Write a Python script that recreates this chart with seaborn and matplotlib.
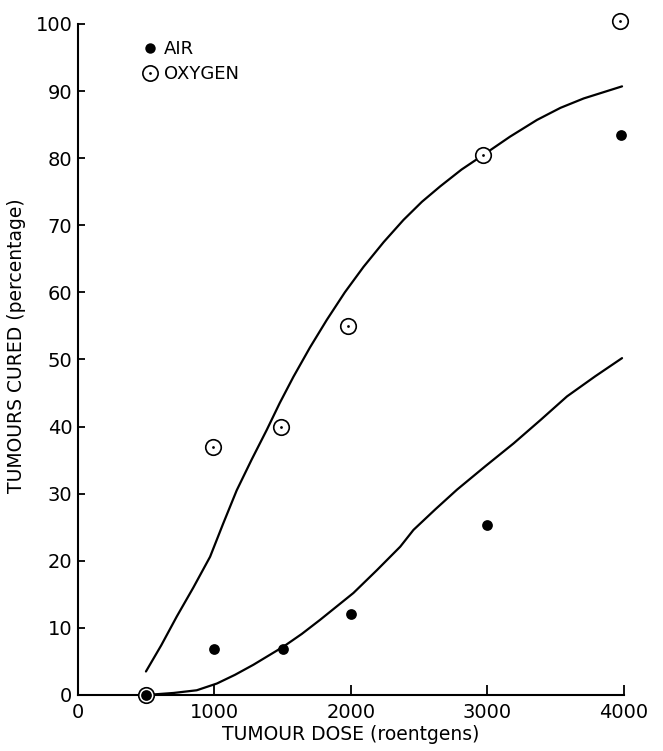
import numpy as np
import pandas as pd
import matplotlib
matplotlib.use('Agg')
import matplotlib.pyplot as plt
import seaborn as sns
from matplotlib.lines import Line2D
from matplotlib.legend_handler import HandlerTuple

air_dose = [500, 1000, 1500, 2000, 3000, 3975]
air_cured = [0, 6.9, 6.8, 12.1, 25.3, 83.5]
oxy_dose = [500, 990, 1490, 1980, 2970, 3970]
oxy_cured = [0, 36.9, 40.0, 55.0, 80.5, 100.5]

# 손으로 그린 곡선
oxy_curve_dose = [498, 610, 724, 845, 968, 1063, 1163, 1273, 1383, 1478, 1578, 1700, 1823,
                  1955, 2092, 2240, 2385, 2520, 2654, 2810, 2971, 3165, 3363, 3535, 3705, 3986]
oxy_curve_cured = [3.5, 7.4, 11.7, 16.0, 20.6, 25.5, 30.5, 35.1, 39.5, 43.5, 47.4, 51.8, 55.9,
                   60.0, 63.8, 67.5, 70.8, 73.5, 75.8, 78.3, 80.5, 83.2, 85.7, 87.5, 88.9, 90.7]
air_curve_dose = [500, 700, 870, 1017, 1150, 1285, 1505, 1640, 1774, 2018, 2190, 2361, 2458,
                  2620, 2777, 2985, 3192, 3390, 3583, 3790, 3986]
air_curve_cured = [0, 0.3, 0.7, 1.7, 3.0, 4.5, 7.2, 9.1, 11.2, 15.2, 18.6, 22.1, 24.6,
                   27.7, 30.6, 34.1, 37.5, 41.0, 44.5, 47.5, 50.2]

x_ticks = [0, 1000, 2000, 3000, 4000]
y_ticks = list(range(0, 101, 10))

sns.set_style('ticks', {'axes.edgecolor': 'black', 'xtick.color': 'black',
                        'ytick.color': 'black', 'text.color': 'black',
                        'axes.labelcolor': 'black'})
plt.rcParams['font.family'] = ['DejaVu Sans']

fig = plt.figure(figsize=(6.63, 7.51), dpi=100)
ax = fig.add_axes([0.1176, 0.0746, 0.8235, 0.8935])

sns.lineplot(x=oxy_curve_dose, y=oxy_curve_cured, ax=ax, color='black', lw=1.6, sort=False)
sns.lineplot(x=air_curve_dose, y=air_curve_cured, ax=ax, color='black', lw=1.6, sort=False)

# 산소 : 속이 빈 원 + 가운데 점
sns.scatterplot(x=oxy_dose, y=oxy_cured, ax=ax, s=125, marker='o', facecolor='white',
                edgecolor='black', linewidth=1.2, clip_on=False, zorder=3)
sns.scatterplot(x=oxy_dose, y=oxy_cured, ax=ax, s=4, marker='o', color='black',
                linewidth=0, clip_on=False, zorder=4)
# 공기 : 검은 점
sns.scatterplot(x=air_dose, y=air_cured, ax=ax, s=60, marker='o', color='black',
                linewidth=0, clip_on=False, zorder=5)

ax.set_xlim(0, 4000)
ax.set_ylim(0, 100)
ax.set_xticks(x_ticks)
ax.set_xticklabels([str(t) for t in x_ticks])
ax.set_yticks(y_ticks)
ax.set_yticklabels([str(t) for t in y_ticks])
sns.despine(ax=ax)
for s in ['left', 'bottom']:
    ax.spines[s].set_linewidth(1.5)
ax.tick_params(axis='x', direction='in', length=7, width=1.3, pad=6, labelsize=14)
ax.tick_params(axis='y', direction='in', length=5, width=1.3, pad=4, labelsize=14)

ax.set_xlabel('TUMOUR DOSE (roentgens)', fontsize=13.5, labelpad=2)
ax.set_ylabel('TUMOURS CURED (percentage)', fontsize=13.5)
ax.yaxis.set_label_coords(-0.095, 0.52)

air_h = Line2D([], [], marker='o', ls='', color='black', markersize=7.5, markeredgewidth=0)
oxy_ring = Line2D([], [], marker='o', ls='', markerfacecolor='white', markeredgecolor='black',
                  markersize=11, markeredgewidth=1.2)
oxy_dot = Line2D([], [], marker='o', ls='', color='black', markersize=2, markeredgewidth=0)
ax.legend(handles=[air_h, (oxy_ring, oxy_dot)], labels=['AIR', 'OXYGEN'],
          handler_map={tuple: HandlerTuple(ndivide=1)}, frameon=False,
          loc='upper left', bbox_to_anchor=(0.085, 1.0), handlelength=1.0,
          handletextpad=0.3, labelspacing=0.4, fontsize=13)

fig.savefig('out.png', dpi=100)
